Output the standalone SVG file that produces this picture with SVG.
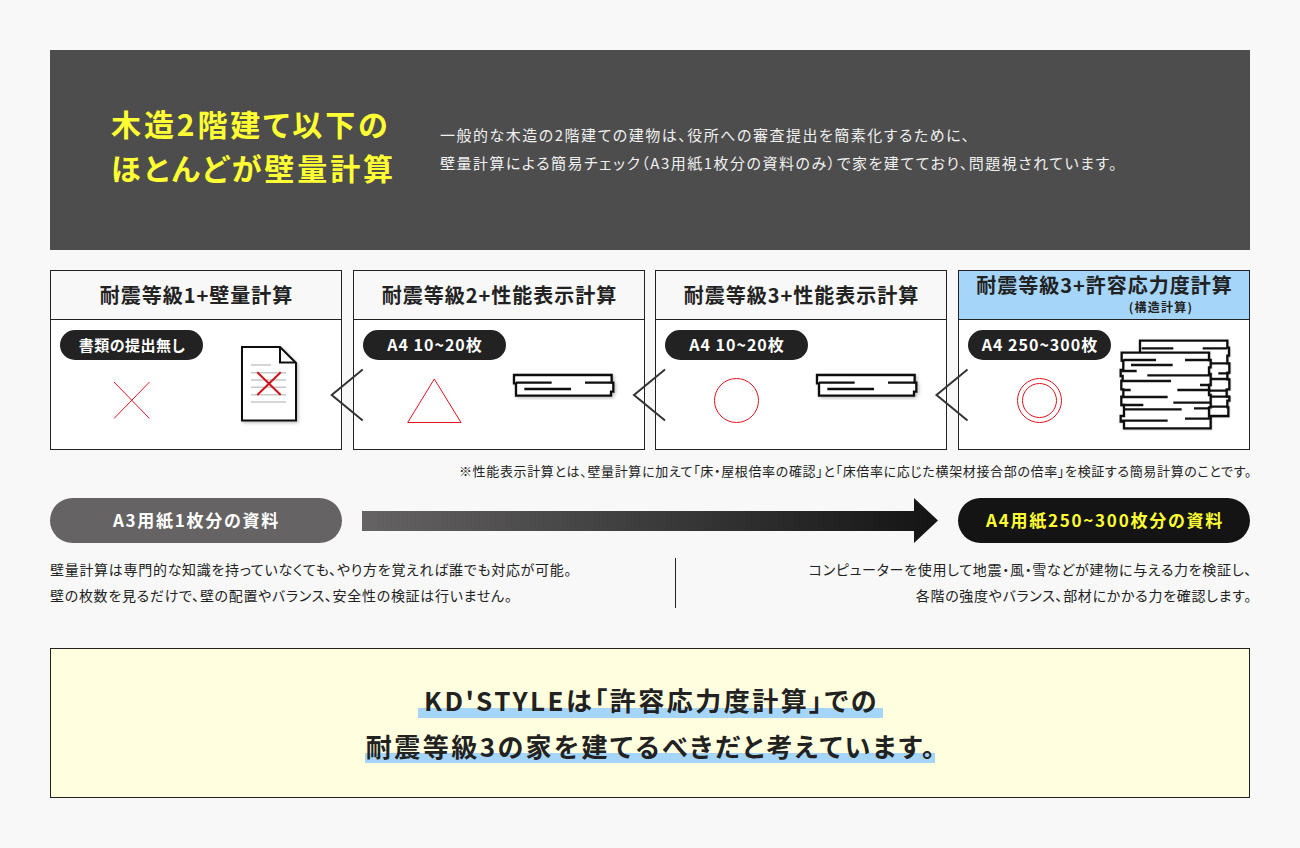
<svg xmlns="http://www.w3.org/2000/svg" xmlns:xlink="http://www.w3.org/1999/xlink" width="1300" height="848" viewBox="0 0 1300 848">
<style>
text{font-family:"Noto Sans CJK JP","Noto Sans",sans-serif;font-feature-settings:"palt";fill:#222}
.hd{font-size:20px;font-weight:700;letter-spacing:1px;text-anchor:middle}
.pl{font-size:16px;font-weight:700;fill:#fff;letter-spacing:1px;text-anchor:middle}
.ti{font-size:30px;font-weight:700;fill:#ffff33;letter-spacing:2.9px}
.de{font-size:15px;fill:#f0f0f0;letter-spacing:1.5px}
.bo{font-size:14px;letter-spacing:.7px}
.fi{font-size:26px;font-weight:700;letter-spacing:2.5px;text-anchor:middle}
.pb{font-size:17px;font-weight:700;letter-spacing:1.75px;text-anchor:middle}
.card{fill:#fff;stroke:#222;stroke-width:1}
.head{fill:#f8f8f8;stroke:#222;stroke-width:1}
.red{fill:none;stroke:#e0141e;stroke-width:1}
.pk{fill:#fff;stroke:#111;stroke-width:7;stroke-linejoin:miter}
.ln{fill:none;stroke:#111;stroke-width:7}
.chev{fill:none;stroke:#333;stroke-width:2}
</style>
<defs>
<linearGradient id="g"><stop offset="0" stop-color="#656363"/><stop offset="1" stop-color="#141414"/></linearGradient>
<filter id="sh" x="-10%" y="-10%" width="125%" height="130%"><feDropShadow dx="1.5" dy="1.5" stdDeviation="1.500" flood-color="#000" flood-opacity=".25"/></filter>
<g id="plank" filter="url(#sh)">
<g transform="scale(.3333)">
<path class="pk" d="M27,30H320V53H325V80H318V92H33V55H27Z"/>
<path class="ln" d="M33,53H140M240,53H320M58,72H198"/>
</g>
</g>
<path id="chev" class="chev" d="M31,-25.500L0,0L31,25.500"/>
</defs>
<rect width="1300" height="848" fill="#f8f8f8"/>
<g id="intro">
<rect x="50" y="50" width="1200" height="200" fill="#4d4d4d"/>
<text class="ti" x="111" y="136">木造2階建て以下の</text>
<text class="ti" x="111" y="180">ほとんどが壁量計算</text>
<text class="de" x="440" y="141">一般的な木造の2階建ての建物は、役所への審査提出を簡素化するために、</text>
<text class="de" x="440" y="169">壁量計算による簡易チェック（A3用紙1枚分の資料のみ）で家を建てており、問題視されています。</text>
</g>
<g id="card1">
<rect class="card" x="50.500" y="270.500" width="291" height="179"/>
<rect class="head" x="50.500" y="270.500" width="291" height="49"/>
<text class="hd" x="196.500" y="302.500">耐震等級1+壁量計算</text>
<rect x="60" y="330" width="143" height="30" rx="15" fill="#222"/>
<text class="pl" x="132" y="350.500" style="font-size:15px;letter-spacing:.5px">書類の提出無し</text>
<path class="red" d="M114,382L149.500,418.500M149.500,382L114,418.500"/>
<g filter="url(#sh)">
<path d="M242,347H280L296,363V420.500H242Z" fill="#fff" stroke="#111" stroke-width="2"/>
<path d="M280,347V362.500H296" fill="none" stroke="#111" stroke-width="2"/>
</g>
<path d="M251,365H271M251,372.700H286M251,380H286M251,387.300H286M251,394.700H286M251,402H286" stroke="#c8c8c8" stroke-width="1.500" fill="none"/>
<path d="M257.300,372.300L280.700,395M280.700,372.300L257.300,395" stroke="#d0101a" stroke-width="2" fill="none"/>
</g>
<g id="card2">
<rect class="card" x="353.500" y="270.500" width="291" height="179"/>
<rect class="head" x="353.500" y="270.500" width="291" height="49"/>
<text class="hd" x="499.500" y="302.500">耐震等級2+性能表示計算</text>
<rect x="363" y="330" width="143" height="30" rx="15" fill="#222"/>
<text class="pl" x="435" y="350.500">A4 10~20枚</text>
<path class="red" d="M434.300,379L407.700,422.500H461Z"/>
<use href="#plank" x="505" y="365"/>
</g>
<g id="card3">
<rect class="card" x="655.500" y="270.500" width="291" height="179"/>
<rect class="head" x="655.500" y="270.500" width="291" height="49"/>
<text class="hd" x="801.500" y="302.500">耐震等級3+性能表示計算</text>
<rect x="665" y="330" width="143" height="30" rx="15" fill="#222"/>
<text class="pl" x="737" y="350.500">A4 10~20枚</text>
<circle class="red" cx="736.500" cy="400.500" r="22"/>
<use href="#plank" x="808" y="365"/>
</g>
<g id="card4">
<rect class="card" x="958.500" y="270.500" width="291" height="179"/>
<rect x="958.500" y="270.500" width="291" height="49" fill="#a5d5f8" stroke="#222"/>
<text class="hd" x="1104.500" y="292.500">耐震等級3+許容応力度計算</text>
<text x="1161" y="312" style="font-size:12px;font-weight:700;letter-spacing:1.2px;text-anchor:middle">(構造計算)</text>
<rect x="968" y="330" width="143" height="30" rx="15" fill="#222"/>
<text class="pl" x="1040" y="350.500">A4 250~300枚</text>
<circle class="red" cx="1039.500" cy="400.500" r="22"/>
<circle class="red" cx="1039.500" cy="400.500" r="17"/>
<g transform="translate(1110 330) scale(.3333)">
<g filter="url(#sh)">
<path class="pk" d="M90,32H352V53H357V77H352V100H358V128H352V148H358V178H350V200H358V212H352V232H355V258H90Z"/>
</g>
<path class="ln" d="M95,55H190M278,55H352M300,100H358M325,130H358M300,147H358M300,182H350M300,200H358M300,230H355"/>
<g filter="url(#sh)">
<path class="pk" d="M35,68H297V90H302V112H297V132H302V165H297V195H302V232H297V260H302V295H42V275H32V258H42V225H34V200H40V178H34V152H38V138H32V120H40V92H35Z"/>
</g>
<path class="ln" d="M40,90H138M225,90H300M63,105H188M35,123H80M112,136H300M35,153H183M270,165H302M38,180H62M202,180H302M35,201H173M190,218H300M35,225H100M40,238H215M252,235H295M32,272H173M225,266H300"/>
</g>
</g>
<g id="connectors">
<use href="#chev" x="331.700" y="395"/>
<use href="#chev" x="634" y="395"/>
<use href="#chev" x="936.500" y="395"/>
<path d="M362,511H914V498L938,520.500L914,543V531H362Z" fill="url(#g)"/>
<line x1="675.500" y1="558" x2="675.500" y2="608" stroke="#222"/>
</g>
<text x="1252" y="476" style="font-size:13px;letter-spacing:.65px;text-anchor:end">※性能表示計算とは、壁量計算に加えて「床・屋根倍率の確認」と「床倍率に応じた横架材接合部の倍率」を検証する簡易計算のことです。</text>
<g id="pill-left">
<rect x="50" y="498" width="292" height="45" rx="22.500" fill="#656363"/>
<text class="pb" x="196.500" y="527" style="fill:#fff">A3用紙1枚分の資料</text>
</g>
<g id="pill-right">
<rect x="958" y="498" width="292" height="45" rx="22.500" fill="#141414"/>
<text class="pb" x="1105" y="527" style="fill:#ffff33">A4用紙250~300枚分の資料</text>
</g>
<g id="notes">
<text class="bo" x="50" y="574.500">壁量計算は専門的な知識を持っていなくても、やり方を覚えれば誰でも対応が可能。</text>
<text class="bo" x="50" y="600.500">壁の枚数を見るだけで、壁の配置やバランス、安全性の検証は行いません。</text>
<text class="bo" x="1252" y="574.500" text-anchor="end">コンピューターを使用して地震・風・雪などが建物に与える力を検証し、</text>
<text class="bo" x="1252" y="600.500" text-anchor="end">各階の強度やバランス、部材にかかる力を確認します。</text>
</g>
<g id="conclusion">
<rect x="50.500" y="648.500" width="1199" height="149" fill="#ffffe0" stroke="#222"/>
<rect x="418" y="708" width="465" height="10" fill="#a5d5f8"/>
<rect x="365" y="753" width="570" height="10" fill="#a5d5f8"/>
<text class="fi" x="651.500" y="711">KD'STYLEは「許容応力度計算」での</text>
<text class="fi" x="651.500" y="757">耐震等級3の家を建てるべきだと考えています。</text>
</g>
</svg>
